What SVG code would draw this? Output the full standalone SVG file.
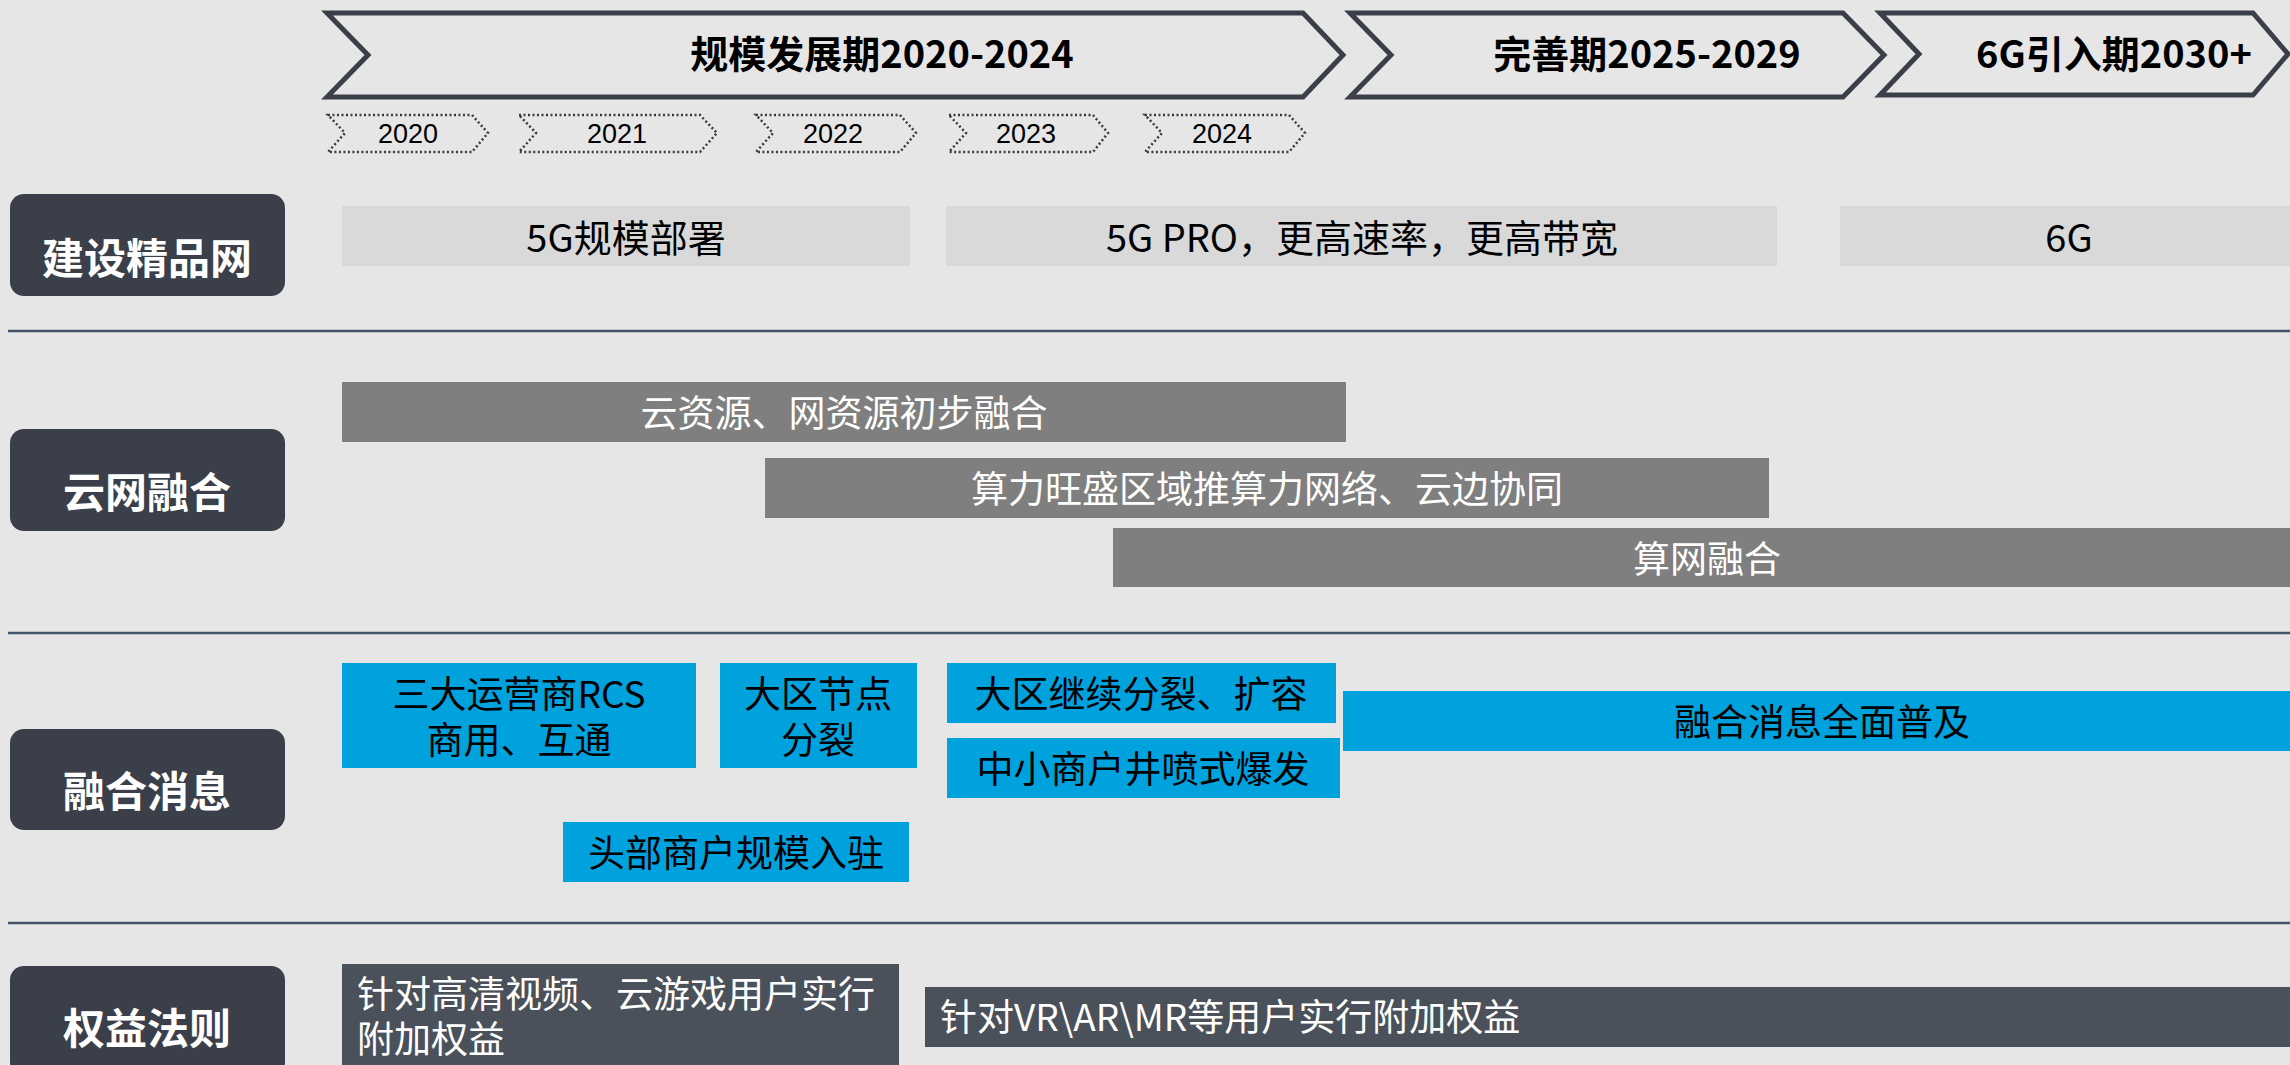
<svg xmlns="http://www.w3.org/2000/svg" width="2290" height="1065" viewBox="0 0 2290 1065">
<style>
text{font-family:"Noto Sans CJK SC","Noto Sans",sans-serif;}
.phase{fill:none;stroke:#3a3f4a;stroke-width:5;stroke-linejoin:miter;}
.phaseT{font-size:38px;font-weight:bold;fill:#000;text-anchor:middle;}
.year{fill:none;stroke:#3a3a3a;stroke-width:2.5;stroke-dasharray:2 2.5;}
.yearT{font-family:"Liberation Sans","Noto Sans CJK SC",sans-serif;font-size:27px;fill:#000;text-anchor:middle;}
.lab{fill:#3a3f4a;}
.labT{font-size:42px;font-weight:bold;fill:#fff;text-anchor:middle;}
.sep{stroke:#44546a;stroke-width:2.5;}
.r1{fill:#d9d9d9;}
.r1T{font-size:38px;fill:#000;text-anchor:middle;}
.r2{fill:#7f7f7f;}
.r2T{font-size:37px;fill:#fff;text-anchor:middle;}
.r3{fill:#00a2de;}
.r3T{font-size:37px;fill:#000;text-anchor:middle;}
.r4{fill:#4b515b;}
.r4T{font-size:37px;fill:#fff;}
</style>
<rect x="0" y="0" width="2290" height="1065" fill="#e6e6e6"/>

<g id="phase-1">
<polygon class="phase" points="327,13 1303,13 1343,55 1303,97 327,97 368,55"/>
<text class="phaseT" x="882" y="68">规模发展期2020-2024</text>
</g>
<g id="phase-2">
<polygon class="phase" points="1350,13 1843,13 1884,55 1843,97 1350,97 1391,55"/>
<text class="phaseT" x="1647" y="68">完善期2025-2029</text>
</g>
<g id="phase-3">
<polygon class="phase" points="1880,13 2253,13 2288,54 2253,95 1880,95 1919,54"/>
<text class="phaseT" x="2114" y="68">6G引入期2030+</text>
</g>

<g id="year-2020">
<polygon class="year" points="328,115 472,115 488,133 472,152 328,152 345,133"/>
<text class="yearT" x="408" y="143">2020</text>
</g>
<g id="year-2021">
<polygon class="year" points="519,115 700,115 717,133 700,152 519,152 536,133"/>
<text class="yearT" x="617" y="143">2021</text>
</g>
<g id="year-2022">
<polygon class="year" points="756,115 900,115 916,133 900,152 756,152 773,133"/>
<text class="yearT" x="833" y="143">2022</text>
</g>
<g id="year-2023">
<polygon class="year" points="949,115 1093,115 1108,133 1093,152 949,152 966,133"/>
<text class="yearT" x="1026" y="143">2023</text>
</g>
<g id="year-2024">
<polygon class="year" points="1145,115 1289,115 1305,133 1289,152 1145,152 1162,133"/>
<text class="yearT" x="1222" y="143">2024</text>
</g>

<g id="separators">
<line class="sep" x1="8" y1="331" x2="2290" y2="331"/>
<line class="sep" x1="8" y1="633" x2="2290" y2="633"/>
<line class="sep" x1="8" y1="923" x2="2290" y2="923"/>
</g>

<g id="label-network">
<rect class="lab" x="10" y="194" width="275" height="102" rx="14"/>
<text class="labT" x="147" y="274">建设精品网</text>
</g>
<g id="label-cloud">
<rect class="lab" x="10" y="429" width="275" height="102" rx="14"/>
<text class="labT" x="147" y="508">云网融合</text>
</g>
<g id="label-msg">
<rect class="lab" x="10" y="729" width="275" height="101" rx="14"/>
<text class="labT" x="147" y="807">融合消息</text>
</g>
<g id="label-rights">
<rect class="lab" x="10" y="966" width="275" height="110" rx="14"/>
<text class="labT" x="147" y="1044">权益法则</text>
</g>

<g id="n-5g-deploy">
<rect class="r1" x="342" y="206" width="568" height="60"/>
<text class="r1T" x="626" y="252">5G规模部署</text>
</g>
<g id="n-5g-pro">
<rect class="r1" x="946" y="206" width="831" height="60"/>
<text class="r1T" x="1362" y="252">5G PRO，更高速率，更高带宽</text>
</g>
<g id="n-6g">
<rect class="r1" x="1840" y="206" width="460" height="60"/>
<text class="r1T" x="2069" y="252">6G</text>
</g>

<g id="n-cloud-1">
<rect class="r2" x="342" y="382" width="1004" height="60"/>
<text class="r2T" x="844" y="427">云资源、网资源初步融合</text>
</g>
<g id="n-cloud-2">
<rect class="r2" x="765" y="458" width="1004" height="60"/>
<text class="r2T" x="1267" y="503">算力旺盛区域推算力网络、云边协同</text>
</g>
<g id="n-cloud-3">
<rect class="r2" x="1113" y="528" width="1190" height="59"/>
<text class="r2T" x="1707" y="573">算网融合</text>
</g>

<g id="n-rcs">
<rect class="r3" x="342" y="663" width="354" height="105"/>
<text class="r3T" x="519" y="708">三大运营商RCS</text>
<text class="r3T" x="519" y="754">商用、互通</text>
</g>
<g id="n-node">
<rect class="r3" x="720" y="663" width="197" height="105"/>
<text class="r3T" x="818" y="708">大区节点</text>
<text class="r3T" x="818" y="754">分裂</text>
</g>
<g id="n-expand">
<rect class="r3" x="947" y="663" width="389" height="60"/>
<text class="r3T" x="1141" y="708">大区继续分裂、扩容</text>
</g>
<g id="n-sme">
<rect class="r3" x="947" y="738" width="393" height="60"/>
<text class="r3T" x="1143" y="783">中小商户井喷式爆发</text>
</g>
<g id="n-full">
<rect class="r3" x="1343" y="691" width="960" height="60"/>
<text class="r3T" x="1822" y="736">融合消息全面普及</text>
</g>
<g id="n-head">
<rect class="r3" x="563" y="822" width="346" height="60"/>
<text class="r3T" x="736" y="867">头部商户规模入驻</text>
</g>

<g id="n-hd">
<rect class="r4" x="342" y="964" width="557" height="110"/>
<text class="r4T" x="357" y="1008">针对高清视频、云游戏用户实行</text>
<text class="r4T" x="357" y="1053">附加权益</text>
</g>
<g id="n-vr">
<rect class="r4" x="925" y="987" width="1380" height="60"/>
<text class="r4T" x="940" y="1031">针对VR\AR\MR等用户实行附加权益</text>
</g>
</svg>
